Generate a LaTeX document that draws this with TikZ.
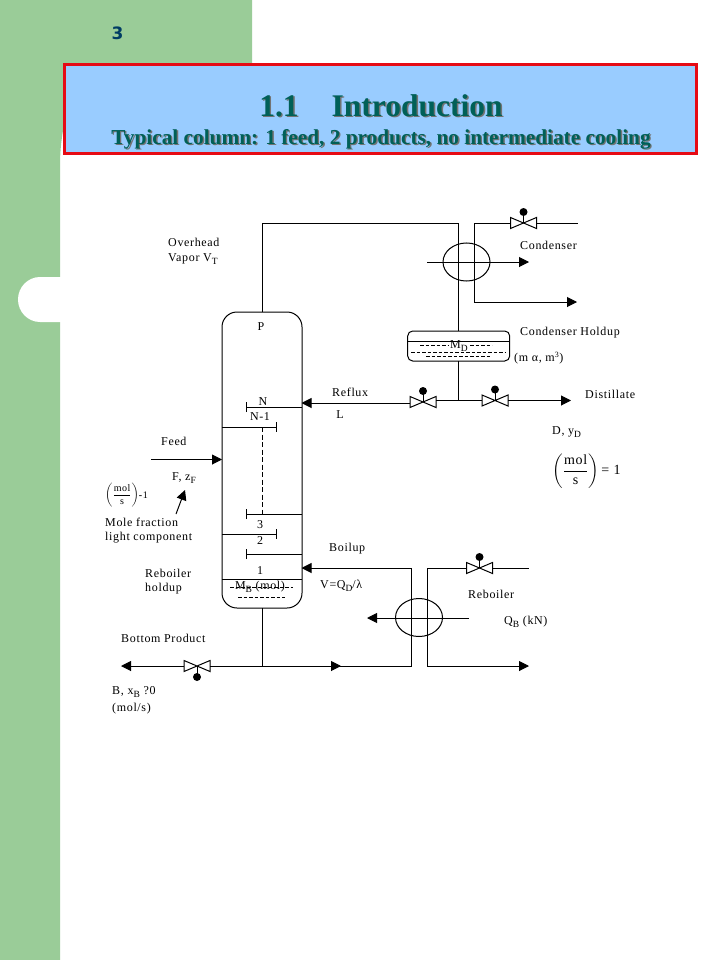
\documentclass[tikz,border=0pt]{standalone}
\usepackage{amsmath}
\usepackage{fontspec}
\setmainfont[LetterSpace=5.5]{Liberation Serif}
\newfontfamily\headfont{Liberation Serif}
\newfontfamily\pagefont{DejaVu Sans}
\usetikzlibrary{arrows.meta, positioning, shapes.geometric}
\definecolor{sidegreen}{HTML}{9ACC98}
\definecolor{panelblue}{HTML}{99CCFF}
\definecolor{panelred}{HTML}{E60A14}
\definecolor{headteal}{HTML}{006058}
\definecolor{pageblue}{HTML}{003C64}
\newcommand{\headshadow}[1]{\makebox[0pt][l]{\kern1.4pt\raisebox{-1.4pt}{\color{black!55}#1}}#1}
\newcommand{\lowsub}[1]{\raisebox{-3pt}{\fontsize{9.5}{10}\selectfont #1}}
\tikzset{
    valve/.pic={
        \draw[pipe, fill=white] (-13,-5.5) -- (13,5.5) -- (13,-5.5) -- (-13,5.5) -- cycle;
        \draw[pipe] (0,0) -- (0,-10);
        \fill (0,-11) circle (4);
        \coordinate (-w) at (-13,0);
        \coordinate (-e) at (13,0);
    }
}
\begin{document}
\begin{tikzpicture}[
    x=1pt, y=-1pt,
    pipe/.style={line width=1pt, black},
    flow/.style={pipe, -{Triangle[length=10pt,width=10pt]}},
    tray/.style={pipe, {Bar[width=10pt]}-},
    tag/.style={anchor=west, inner sep=0pt, font=\fontsize{12}{13}\selectfont},
    tagmid/.style={tag, anchor=center},
    liquid/.style={line width=0.8pt, dash pattern=on 3.5pt off 2pt},
    exchanger/.style={draw, pipe, ellipse, minimum width=47pt, minimum height=38pt, inner sep=0pt}
]
\useasboundingbox (0,0) rectangle (720,960);
\fill[white] (0,0) rectangle (720,960);

% page background
\fill[sidegreen] (0,0) -- (252,0) -- (252,100) -- (70,100)
    .. controls (63,125) and (60,145) .. (60,165) -- (60,960) -- (0,960) -- cycle;
\fill[white] (62,277) -- (40,277) .. controls (28,277) and (18,287) .. (18,299.5)
    .. controls (18,312) and (28,322) .. (40,322) -- (62,322) -- cycle;
\node[text=pageblue, font=\pagefont\bfseries\fontsize{17}{20}\selectfont] (pageno) at (117.5,33) {3};

% title
\node[draw=panelred, fill=panelblue, line width=3pt, minimum width=632pt, minimum height=89pt, inner sep=0pt] (panel) at (380,109.5) {};
\node[text=headteal, font=\headfont\bfseries\fontsize{31.5}{33}\selectfont] (title) at (381,106) {\headshadow{1.1\hspace{33pt}Introduction}};
\node[text=headteal, font=\headfont\bfseries\fontsize{21.3}{23}\selectfont] (subtitle) at (381,140) {\headshadow{Typical column: 1 feed, 2 products, no intermediate cooling}};

% column
\node[draw, pipe, rounded corners=15pt, minimum width=80pt, minimum height=296pt, inner sep=0pt] (column) at (262,460) {};
\coordinate (colN) at (301.5,407);
\coordinate (colNm) at (222,427);
\coordinate (colT) at (301.5,514);
\coordinate (colS) at (222,534);
\coordinate (colO) at (301.5,554);
\coordinate (sumpL) at (222,579);
\coordinate (sumpR) at (301.5,579);
\coordinate (dashTop) at (262,427);
\coordinate (dashEnd) at (262,514);
\draw[tray] (246,407) -- (colN);
\draw[tray] (277,427) -- (colNm);
\draw[tray] (246,514) -- (colT);
\draw[tray] (277,534) -- (colS);
\draw[tray] (246,554) -- (colO);
\draw[pipe] (sumpL) -- (sumpR);
\draw[pipe, dash pattern=on 5pt off 2.5pt] (dashTop) -- (dashEnd);
\draw[liquid] (230,587) -- (293,587);
\draw[liquid] (238,597) -- (285,597);

% overhead and condenser
\node[exchanger] (condenser) at (466.5,262) {};
\node[draw, pipe, rounded corners=5pt, minimum width=102pt, minimum height=30pt, inner sep=0pt] (drum) at (458.7,346) {};
\coordinate (colTop) at (262,312);
\coordinate (topBend) at (262,223.5);
\coordinate (drumTop) at (458,331);
\coordinate (drumBot) at (458,361);
\coordinate (topRight) at (458,223.5);
\coordinate (juncD) at (458,400.5);
\draw[pipe] (colTop) -- (topBend) -- (topRight) -- (drumTop);
\draw[pipe] (drumBot) -- (juncD);
\coordinate (drumL) at (407.5,341);
\coordinate (drumR) at (510,341);
\draw[pipe] (drumL) -- (drumR);
\draw[liquid] (420,345.5) -- (449,345.5);
\draw[liquid] (470,345.5) -- (492,345.5);
\draw[liquid] (411,352) -- (506,352);
\draw[liquid] (426,356.5) -- (491,356.5);
\coordinate (coolIn) at (427,262);
\coordinate (coolOut) at (529,262);
\draw[flow] (coolIn) -- (coolOut);
\pic (vlvCool) at (523.5,223) {valve};
\coordinate (coolTop) at (474,223);
\coordinate (coolBot) at (474,302);
\coordinate (coolEnd) at (577,302);
\coordinate (coolFeed) at (578,223);
\draw[pipe] (vlvCool-w) -- (coolTop);
\draw[flow] (coolTop) -- (coolBot) -- (coolEnd);
\draw[pipe] (vlvCool-e) -- (coolFeed);

% reflux and distillate
\pic (vlvReflux) at (423,402) {valve};
\pic (vlvDist) at (495,400.5) {valve};
\coordinate (refluxIn) at (301.5,403);
\coordinate (distEnd) at (571,400.5);
\draw[flow] (vlvReflux-w |- refluxIn) -- (refluxIn);
\draw[pipe] (vlvReflux-e |- juncD) -- (juncD) -- (vlvDist-w);
\draw[flow] (vlvDist-e) -- (distEnd);

% feed
\coordinate (feedIn) at (151,459.5);
\coordinate (feedEnd) at (222,459.5);
\draw[flow] (feedIn) -- (feedEnd);
\coordinate (noteTail) at (176,514);
\coordinate (noteTip) at (185,490);
\draw[flow] (noteTail) -- (noteTip);

% bottoms and reboiler
\node[exchanger] (reboiler) at (419,617.5) {};
\pic (vlvBot) at (197,666) [yscale=-1] {valve};
\pic (vlvHeat) at (479.5,568) {valve};
\coordinate (colBot) at (262,608);
\coordinate (juncB) at (262,666);
\coordinate (botMid) at (341,666);
\coordinate (botEnd) at (121,666);
\coordinate (bendA) at (411.5,666);
\coordinate (bendB) at (411.5,568);
\coordinate (boilIn) at (301.5,568);
\coordinate (heatTop) at (427.5,568);
\coordinate (heatBot) at (427.5,666);
\coordinate (heatEnd) at (529,666);
\coordinate (heatFeed) at (529,568);
\coordinate (heatIn) at (469,618);
\coordinate (heatOut) at (367,618);
\draw[pipe] (colBot) -- (juncB);
\draw[flow] (vlvBot-e) -- (botMid);
\draw[pipe] (juncB) -- (bendA);
\draw[flow] (bendA) -- (bendB) -- (boilIn);
\draw[flow] (vlvBot-w) -- (botEnd);
\draw[pipe] (vlvHeat-w) -- (heatTop);
\draw[flow] (heatTop) -- (heatBot) -- (heatEnd);
\draw[pipe] (vlvHeat-e) -- (heatFeed);
\draw[flow] (heatIn) -- (heatOut);

% labels
\node[tag] (lblOverhead) at (168,242) {Overhead};
\node[tag] (lblVapor) at (168,259.5) {Vapor V\lowsub{T}};
\node[tagmid] (lblP) at (261,327) {P};
\node[tagmid] (lblN) at (263,402) {N};
\node[tagmid] (lblNm) at (260,417) {N-1};
\node[tag] (lblFeed) at (161,441) {Feed};
\node[tag] (lblFz) at (172,478) {F, z\lowsub{F}};
\node[tag, font=\fontsize{10}{11}\selectfont] (lblUnit) at (105,495.5) {$\left(\dfrac{\text{mol}}{\text{s}}\right)$\textbf{-}1};
\node[tag] (lblMole) at (105,522) {Mole fraction};
\node[tag] (lblLight) at (105,538) {light component};
\node[tagmid] (lblThree) at (260,525) {3};
\node[tagmid] (lblTwo) at (260,541) {2};
\node[tagmid] (lblOne) at (260,571) {1};
\node[tag] (lblReb) at (145,573) {Reboiler};
\node[tag] (lblHold) at (145,589) {holdup};
\node[tagmid] (lblMB) at (260,587) {M\lowsub{B} (mol)};
\node[tag] (lblCond) at (520,245) {Condenser};
\node[tag] (lblCondH) at (520,333) {Condenser Holdup};
\node[tagmid] (lblMD) at (459,346) {M\lowsub{D}};
\node[tag] (lblMa) at (514,358) {(m α, m$^{\text{3}}$)};
\node[tag] (lblReflux) at (332,392) {Reflux};
\node[tagmid] (lblL) at (340,415) {L};
\node[tag] (lblDist) at (585,394) {Distillate};
\node[tag] (lblDy) at (552,432) {D, y\lowsub{D}};
\node[tag, font=\fontsize{14}{16}\selectfont] (lblRate) at (552,471) {$\left(\dfrac{\text{mol}}{\text{s}}\right)$\,= 1};
\node[tag] (lblBoil) at (329,549) {Boilup};
\node[tag] (lblV) at (320,586) {V=Q\lowsub{D}/λ};
\node[tag] (lblReboiler) at (468,594) {Reboiler};
\node[tag] (lblQ) at (504,622) {Q\lowsub{B} (kN)};
\node[tag] (lblBottom) at (121,638.5) {Bottom Product};
\node[tag] (lblB) at (112,692) {B, x\lowsub{B} ?0};
\node[tag] (lblMol) at (112,709) {(mol/s)};
\end{tikzpicture}
\end{document}
